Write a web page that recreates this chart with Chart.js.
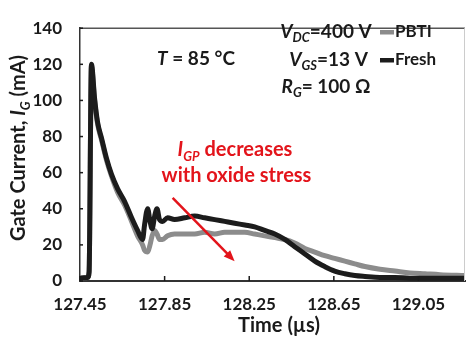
<!DOCTYPE html>
<html>
<head>
<meta charset="utf-8">
<script src="https://cdn.jsdelivr.net/npm/chart.js@4"></script>
<style>
  html, body { margin: 0; padding: 0; background: #fff; }
  #wrap { width: 467px; height: 343px; position: relative; }
</style>
</head>
<body>
<div id="wrap"><canvas id="chart"></canvas></div>
<script>
// time axis in µs, gate current in mA
const timeUs = [
  127.450, 127.486, 127.493, 127.504, 127.519, 127.533, 127.552, 127.575, 127.599, 127.628,
  127.661, 127.694, 127.722, 127.746, 127.755, 127.770, 127.781, 127.791, 127.803, 127.814,
  127.826, 127.840, 127.864, 127.897, 127.945, 127.992, 128.039, 128.087, 128.134, 128.181,
  128.229, 128.276, 128.323, 128.371, 128.418, 128.465, 128.513, 128.560, 128.607, 128.654,
  128.702, 128.749, 128.797, 128.868, 128.939, 129.010, 129.081, 129.152, 129.270
];
const freshMa = [
  1.5, 2, 5, 120, 101, 88, 79, 68, 59, 51,
  44, 35, 28, 23, 31, 40, 33, 29, 36, 40,
  34, 33, 35, 34, 35, 36, 35, 34, 33, 32,
  31, 30, 28, 26, 23, 19, 15, 11, 8, 5.5,
  4, 3, 2.5, 2, 2, 1.5, 1.5, 1.5, 1.5
];
const pbtiMa = [
  1.5, 2, 5, 119, 100, 87, 78, 67, 58, 49,
  42, 33, 25, 20, 17, 16, 20, 25, 28, 26,
  23, 23, 25, 26, 26, 26, 27, 26, 27, 27,
  27, 26, 25, 24, 23, 21, 18, 16, 14, 12.5,
  11, 9.5, 8, 6.5, 5.5, 4.5, 4, 3.5, 3
];
const seriesNames = ["PBTI", "Fresh"];
const xTicks = [127.45, 127.85, 128.25, 128.65, 129.05];
const xRange = [127.45, 129.27];
const yRange = [0, 140];
const yStep = 20;

// arrow annotation endpoints in data units [time, mA]
const arrowFrom = [127.888, 46];
const arrowTo = [128.181, 11];

const FONT = "Lato, 'Open Sans', sans-serif";
const INK = "#1a1a1a";
const RED = "#e3141b";

function partFont(p, size) {
  const s = p.sub ? Math.round(size * 0.66) : size;
  return `${p.italic ? "italic " : ""}bold ${s}px ${FONT}`;
}

function drawRich(ctx, parts, x, y, size, align) {
  const widths = parts.map((p) => { ctx.font = partFont(p, size); return ctx.measureText(p.t).width; });
  const total = widths.reduce((a, b) => a + b, 0);
  let cx = align === "center" ? x - total / 2 : align === "right" ? x - total : x;
  ctx.textAlign = "left";
  ctx.textBaseline = "middle";
  parts.forEach((p, i) => {
    ctx.font = partFont(p, size);
    ctx.fillText(p.t, cx, y + (p.sub ? size * 0.32 : 0));
    cx += widths[i];
  });
}

const extras = {
  id: "extras",
  afterDatasetsDraw(chart) {
    const { ctx, chartArea: a, scales: { x, y } } = chart;
    ctx.save();
    // frame top/right
    ctx.strokeStyle = "#555";
    ctx.lineWidth = 1.5;
    ctx.beginPath();
    ctx.moveTo(a.left, a.top);
    ctx.lineTo(a.right, a.top);
    ctx.stroke();
    ctx.strokeStyle = "#ccc";
    ctx.lineWidth = 1;
    ctx.beginPath();
    ctx.moveTo(a.right - 0.5, a.top);
    ctx.lineTo(a.right - 0.5, a.bottom);
    ctx.stroke();

    // inward tick marks
    ctx.strokeStyle = INK;
    ctx.lineWidth = 1.5;
    x.ticks.forEach((t) => {
      const px = x.getPixelForValue(t.value);
      ctx.beginPath();
      ctx.moveTo(px, a.bottom);
      ctx.lineTo(px, a.bottom - 5);
      ctx.stroke();
    });
    y.ticks.forEach((t) => {
      const py = y.getPixelForValue(t.value);
      ctx.beginPath();
      ctx.moveTo(a.left, py);
      ctx.lineTo(a.left + 3, py);
      ctx.stroke();
    });

    // arrow
    const x0 = x.getPixelForValue(arrowFrom[0]), y0 = y.getPixelForValue(arrowFrom[1]);
    const x1 = x.getPixelForValue(arrowTo[0]), y1 = y.getPixelForValue(arrowTo[1]);
    const ang = Math.atan2(y1 - y0, x1 - x0);
    ctx.strokeStyle = RED;
    ctx.fillStyle = RED;
    ctx.lineWidth = 2.5;
    ctx.beginPath();
    ctx.moveTo(x0, y0);
    ctx.lineTo(x1 - 8 * Math.cos(ang), y1 - 8 * Math.sin(ang));
    ctx.stroke();
    ctx.beginPath();
    ctx.moveTo(x1, y1);
    ctx.lineTo(x1 - 11 * Math.cos(ang) + 4.5 * Math.sin(ang), y1 - 11 * Math.sin(ang) - 4.5 * Math.cos(ang));
    ctx.lineTo(x1 - 11 * Math.cos(ang) - 4.5 * Math.sin(ang), y1 - 11 * Math.sin(ang) + 4.5 * Math.cos(ang));
    ctx.closePath();
    ctx.fill();

    // red note
    drawRich(ctx, [{ t: "I", italic: true }, { t: "GP", italic: true, sub: true }, { t: " decreases" }], 235, 150, 20, "center");
    drawRich(ctx, [{ t: "with oxide stress" }], 236.5, 176, 20, "center");

    // conditions
    ctx.fillStyle = INK;
    drawRich(ctx, [{ t: "T", italic: true }, { t: " = 85 °C" }], 196, 59, 19, "center");
    drawRich(ctx, [{ t: "V", italic: true }, { t: "DC", italic: true, sub: true }, { t: "=400 V" }], 326, 32, 19, "center");
    drawRich(ctx, [{ t: "V", italic: true }, { t: "GS", italic: true, sub: true }, { t: "=13 V" }], 328.5, 60, 19, "center");
    drawRich(ctx, [{ t: "R", italic: true }, { t: "G", italic: true, sub: true }, { t: "= 100 Ω" }], 326, 87, 19, "center");

    // legend
    const ds = chart.data.datasets;
    [0, 1].forEach((i) => {
      const ly = 32 + i * 28;
      ctx.fillStyle = ds[i].borderColor;
      ctx.fillRect(380, ly - 2, 14, 4.5);
      ctx.fillStyle = INK;
      drawRich(ctx, [{ t: ds[i].label }], 395, ly, 17, "left");
    });

    // axis titles
    drawRich(ctx, [{ t: "Time (µs)" }], 279, 326, 20, "center");
    ctx.translate(19, 148);
    ctx.rotate(-Math.PI / 2);
    drawRich(ctx, [{ t: "Gate Current, " }, { t: "I", italic: true }, { t: "G", italic: true, sub: true }, { t: " (mA)" }], 0, 0, 20, "center");
    ctx.restore();
  },
};

const toPoints = (vals) => timeUs.map((t, i) => ({ x: t, y: vals[i] }));

new Chart(document.getElementById("chart"), {
  type: "line",
  data: {
    datasets: [
      { label: seriesNames[0], data: toPoints(pbtiMa), borderColor: "#8c8c8c", borderWidth: 5, order: 2 },
      { label: seriesNames[1], data: toPoints(freshMa), borderColor: "#1c1c1c", borderWidth: 5, order: 1 },
    ],
  },
  options: {
    responsive: true,
    maintainAspectRatio: false,
    animation: false,
    devicePixelRatio: 1,
    layout: { padding: { top: 12, right: 2, left: 0, bottom: 0 } },
    elements: {
      point: { radius: 0 },
      line: { cubicInterpolationMode: "monotone", borderCapStyle: "butt", borderJoinStyle: "round" },
    },
    plugins: { legend: { display: false }, tooltip: { enabled: false } },
    scales: {
      x: {
        type: "linear",
        min: xRange[0],
        max: xRange[1],
        afterBuildTicks: (s) => { s.ticks = xTicks.map((v) => ({ value: v })); },
        afterFit: (s) => { s.height = 62; },
        grid: { display: false, drawTicks: false },
        border: { display: true, color: "#333", width: 2 },
        ticks: {
          autoSkip: false, maxRotation: 0, padding: 13, color: INK,
          font: { family: FONT, size: 17, weight: "bold" },
          callback: (v) => Number(v).toFixed(2),
        },
      },
      y: {
        min: yRange[0],
        max: yRange[1],
        afterFit: (s) => { s.width = 80; },
        grid: { display: false, drawTicks: false },
        border: { display: true, color: "#333", width: 1.5 },
        ticks: {
          stepSize: yStep, padding: 18, color: INK,
          font: { family: FONT, size: 17, weight: "bold" },
        },
      },
    },
  },
  plugins: [extras],
});
</script>
</body>
</html>
